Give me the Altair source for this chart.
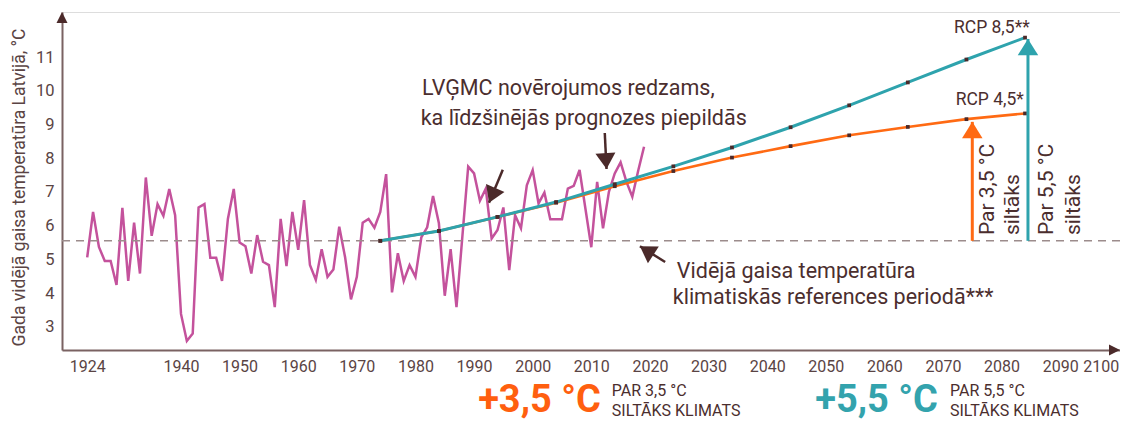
import altair as alt
import pandas as pd

# ---------------- data ----------------
obs_years = list(range(1924, 2020))
obs_temp = [
    5.06, 6.41, 5.37, 4.95, 4.95, 4.24, 6.53, 4.36, 6.09, 4.58,
    7.43, 5.70, 6.64, 6.29, 7.09, 6.31, 3.38, 2.58, 2.80, 6.54,
    6.64, 5.05, 5.05, 4.36, 6.20, 7.09, 5.50, 5.39, 4.58, 5.72,
    4.93, 4.83, 3.58, 6.20, 4.80, 6.41, 5.28, 6.76, 4.83, 4.39,
    5.30, 4.48, 4.70, 5.97, 5.06, 3.81, 4.48, 6.09, 6.20, 5.94,
    6.41, 7.53, 4.02, 5.18, 4.36, 4.83, 4.48, 5.65, 5.95, 6.88,
    6.07, 3.92, 5.30, 3.58, 5.67, 7.75, 7.55, 6.74, 7.10, 5.62,
    5.87, 6.54, 4.68, 6.31, 5.92, 7.20, 7.65, 6.66, 6.98, 6.19,
    6.19, 6.19, 7.10, 7.18, 7.65, 6.50, 5.36, 7.30, 5.92, 7.00,
    7.55, 7.88, 7.30, 6.86, 7.63, 8.34,
]
proj_years = [1974, 1984, 1994, 2004, 2014, 2024, 2034, 2044, 2054, 2064, 2074, 2084]
rcp85 = [5.55, 5.84, 6.26, 6.70, 7.23, 7.76, 8.32, 8.92, 9.57, 10.25, 10.93, 11.58]
rcp45 = [5.55, 5.84, 6.26, 6.68, 7.17, 7.62, 8.02, 8.36, 8.68, 8.93, 9.16, 9.33]
ref_temp = 5.55

x_ticks = [1924, 1940, 1950, 1960, 1970, 1980, 1990, 2000, 2010, 2020,
           2030, 2040, 2050, 2060, 2070, 2080, 2090, 2100]
y_ticks = [3, 4, 5, 6, 7, 8, 9, 10, 11]
x_dom = [1919.7, 2100.2]
y_dom = [2.31, 12.34]

y_title = "Gada vidējā gaisa temperatūra Latvijā, °C"

# warming arrows (year, tip value)
warm_arrow_year = [2075, 2084.5]
warm_arrow_to = [9.08, 11.54]
warm_colors = ["#ff6a13", "#2ea3ad"]

# annotation arrows: tail -> tip
ann_x1 = [1994.9, 2012.3, 2022.6]
ann_y1 = [7.66, 8.75, 4.92]
ann_x2 = [1992.55, 2012.6, 2018.3]
ann_y2 = [6.68, 7.68, 5.39]
ann_angle = [203, 176, 303]

ann_text = ["LVĢMC novērojumos redzams,", "ka līdzšinējās prognozes piepildās",
            "Vidējā gaisa temperatūra", "klimatiskās references periodā***"]
ann_tx = [1981.1, 1980.9, 2024.6, 2023.9]
ann_ty = [10.05, 9.17, 4.62, 3.85]

rcp_text = ["RCP 8,5**", "RCP 4,5*"]
rcp_tx = [2084.8, 2083.8]
rcp_ty = [11.86, 9.73]

rot_text = ["Par 3,5 °C", "siltāks", "Par 5,5 °C", "siltāks"]
rot_tx = [2077.7, 2082.0, 2087.8, 2092.3]
rot_ty = [5.72, 5.72, 5.72, 5.72]

big_text = ["+3,5 °C", "+5,5 °C"]
big_tx = [1990.7, 2048.2]
big_ty = [0.46, 0.46]
big_col = ["#ff5f0f", "#33a3ad"]

small_text = ["PAR 3,5 °C", "SILTĀKS KLIMATS", "PAR 5,5 °C", "SILTĀKS KLIMATS"]
small_tx = [2013.5, 2013.5, 2071.2, 2071.2]
small_ty = [1.08, 0.50, 1.08, 0.50]

# ---------------- tables ----------------
obs = pd.DataFrame({"year": obs_years, "t": obs_temp})
p85 = pd.DataFrame({"year": proj_years, "t": rcp85})
p45 = pd.DataFrame({"year": proj_years, "t": rcp45})
marks_df = pd.concat([p45, p85])
warm = pd.DataFrame({"year": warm_arrow_year, "t": [ref_temp] * 2, "t2": warm_arrow_to, "c": warm_colors})
warm_tip = pd.DataFrame({"year": warm_arrow_year, "t": warm_arrow_to, "c": warm_colors})
ann = pd.DataFrame({"year": ann_x1, "t": ann_y1, "year2": ann_x2, "t2": ann_y2})
ann_tip = pd.DataFrame({"year": ann_x2, "t": ann_y2, "a": ann_angle})
axis_heads = pd.DataFrame({"year": [x_dom[1], x_dom[0]], "t": [y_dom[0], y_dom[1]], "a": [90, 0]})

TXT = "#4b2e2e"
DARK = "#4b2a2a"
LBL = "#5a4444"
AXC = "#7a6262"

xs = alt.Scale(domain=x_dom, nice=False, zero=False)
ys = alt.Scale(domain=y_dom, nice=False, zero=False)

x_axis = alt.Axis(values=x_ticks, format="d", ticks=False, grid=False,
                  labelFontSize=16, labelColor=LBL, labelPadding=8,
                  domainColor=AXC, domainWidth=2, labelFlush=3, labelFont="Roboto")
y_axis = alt.Axis(values=y_ticks, ticks=False, grid=False,
                  labelFontSize=16.5, labelColor=LBL, labelPadding=8,
                  domainColor=AXC, domainWidth=2, labelFont="Roboto",
                  titleFontSize=17.5, titleFontWeight="normal", titleColor=LBL,
                  titleFont="Roboto", titleX=-43, titleY=175,
                  titleAngle=270, titleAlign="center", titleBaseline="middle")

XE = alt.X("year:Q", scale=xs, axis=x_axis, title=None)
YE = alt.Y("t:Q", scale=ys, axis=y_axis, title=y_title)

head_up = "M0,0L1,1.6L-1,1.6Z"
axis_head = "M0,0L1,2L-1,2Z"

obs_line = alt.Chart(obs).mark_line(color="#c4529c", strokeWidth=2.5).encode(x=XE, y=YE)

ref_rule = alt.Chart(pd.DataFrame({"t": [ref_temp]})).mark_rule(
    color="#9c8c8c", strokeWidth=1.6, strokeDash=[8, 6]).encode(y=YE)

l45 = alt.Chart(p45).mark_line(color="#ff6a13", strokeWidth=2.6).encode(x=XE, y=YE)
l85 = alt.Chart(p85).mark_line(color="#2ea3ad", strokeWidth=3).encode(x=XE, y=YE)
pts = alt.Chart(marks_df).mark_square(color=DARK, size=14, opacity=1).encode(x=XE, y=YE)

warm_rule = alt.Chart(warm).mark_rule(strokeWidth=3).encode(
    x=XE, y=YE, y2="t2:Q", color=alt.Color("c:N", scale=None))
warm_head = alt.Chart(warm_tip).mark_point(shape=head_up, filled=True, size=420, opacity=1).encode(
    x=XE, y=YE, color=alt.Color("c:N", scale=None))

ann_rule = alt.Chart(ann).mark_rule(color=DARK, strokeWidth=2.5).encode(
    x=XE, y=YE, x2="year2:Q", y2="t2:Q")
ann_head = alt.Chart(ann_tip).mark_point(shape=head_up, filled=True, size=400, color=DARK, opacity=1).encode(
    x=XE, y=YE, angle=alt.Angle("a:Q", scale=None))

ax_head = alt.Chart(axis_heads).mark_point(shape=axis_head, filled=True, size=121, color=DARK, opacity=1).encode(
    x=XE, y=YE, angle=alt.Angle("a:Q", scale=None))

ann_txt = alt.Chart(pd.DataFrame({"year": ann_tx, "t": ann_ty, "s": ann_text})).mark_text(
    align="left", baseline="middle", fontSize=21.5, color=TXT, font="Roboto").encode(
    x=XE, y=YE, text="s:N")

rcp_txt = alt.Chart(pd.DataFrame({"year": rcp_tx, "t": rcp_ty, "s": rcp_text})).mark_text(
    align="right", baseline="middle", fontSize=17.5, color=TXT, font="Roboto").encode(
    x=XE, y=YE, text="s:N")

rot_txt = alt.Chart(pd.DataFrame({"year": rot_tx, "t": rot_ty, "s": rot_text})).mark_text(
    align="left", baseline="middle", fontSize=21, color=TXT, font="Roboto", angle=270).encode(
    x=XE, y=YE, text="s:N")

big_txt = alt.Chart(pd.DataFrame({"year": big_tx, "t": big_ty, "s": big_text, "c": big_col})).mark_text(
    align="left", baseline="alphabetic", fontSize=38, fontWeight="bold", font="Roboto").encode(
    x=XE, y=YE, text="s:N", color=alt.Color("c:N", scale=None))

small_txt = alt.Chart(pd.DataFrame({"year": small_tx, "t": small_ty, "s": small_text})).mark_text(
    align="left", baseline="middle", fontSize=16, color=TXT, font="Roboto").encode(
    x=XE, y=YE, text="s:N")

chart = alt.layer(
    obs_line, ref_rule, l45, l85, pts, warm_rule, warm_head, ann_rule, ann_head,
    ax_head, ann_txt, rcp_txt, rot_txt, big_txt, small_txt,
).properties(
    width=1058, height=338,
    autosize=alt.AutoSizeParams(type="none"),
    padding={"left": 54, "top": 4, "right": 0, "bottom": 72},
).configure_view(stroke=None).configure(font="Roboto")

chart.save("out.html", embed_options={"renderer": "svg", "actions": False})
